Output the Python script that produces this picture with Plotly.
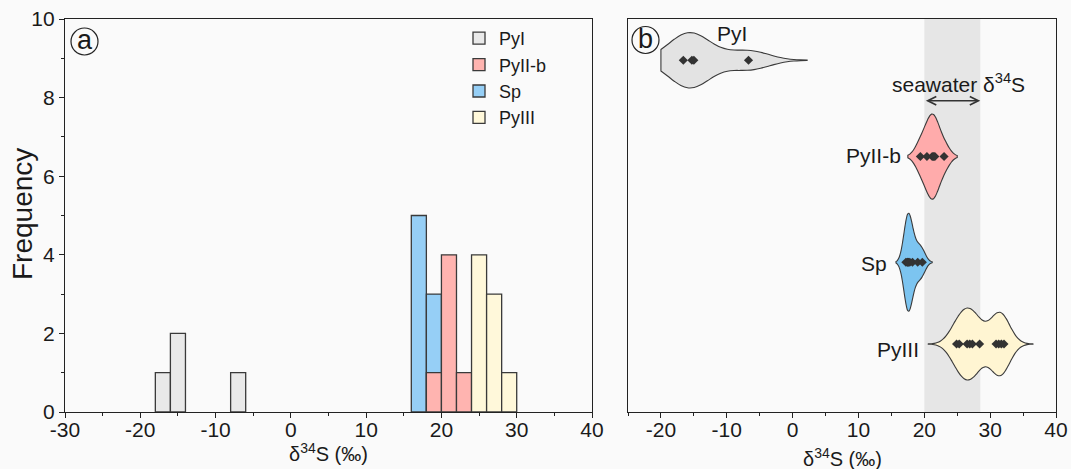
import plotly.graph_objects as go

# ---------------- data ----------------
# Panel (a): histogram bins (bin centre, bin width 2) and counts
pyI_bins = [-17, -15, -7]
pyI_counts = [1, 2, 1]
sp_bins = [17, 19]
sp_counts = [5, 3]
pyIIb_bins = [19, 21, 23]
pyIIb_counts = [1, 4, 1]
pyIII_bins = [25, 27, 29]
pyIII_counts = [4, 3, 1]
bin_width = 2

# Panel (b): individual d34S values used for the violins
pyI_vals = [-16.6, -15.3, -15.0, -6.7]
pyIIb_vals = [19.4, 20.4, 21.2, 21.4, 21.6, 23.0]
sp_vals = [17.2, 17.4, 17.5, 17.6, 17.8, 18.2, 19.0, 19.7]
pyIII_vals = [24.9, 25.3, 26.5, 26.9, 27.3, 28.4, 30.9, 31.3, 31.7, 32.1]

seawater_range = [20, 28.5]

x_ticks_a = [-30, -20, -10, 0, 10, 20, 30, 40]
x_ticks_b = [-20, -10, 0, 10, 20, 30, 40]
y_ticks_a = [0, 2, 4, 6, 8, 10]

colors_hist = {"PyI": "#e9e9e9", "PyII-b": "#ffb4b0", "Sp": "#96cff6", "PyIII": "#fff8da"}
colors_vio = {"PyI": "#e3e3e3", "PyII-b": "#ffabab", "Sp": "#7cc4f0", "PyIII": "#fff5d2"}

FONT = "Liberation Sans, Arial, sans-serif"
INK = "#1a1a1a"
EDGE = "#3a3a3a"

fig = go.Figure()

# ---------------- panel (a) histogram ----------------
hist_sets = [
    ("PyI", pyI_bins, pyI_counts, 1),
    ("Sp", sp_bins, sp_counts, 3),
    ("PyII-b", pyIIb_bins, pyIIb_counts, 2),
    ("PyIII", pyIII_bins, pyIII_counts, 4),
]
for name, bins, counts, rank in hist_sets:
    fig.add_trace(go.Bar(
        x=bins, y=counts, width=bin_width, name=name, legendrank=rank,
        marker=dict(color=colors_hist[name], line=dict(color=EDGE, width=1.3)),
        xaxis="x", yaxis="y", showlegend=True,
    ))

# ---------------- panel (b) violins ----------------
vio_sets = [
    ("PyI", pyI_vals, 8.95, 1.40, 3.1, [-20, 2.2]),
    ("PyII-b", pyIIb_vals, 6.5, 2.16, 0.9, [17.5, 25.0]),
    ("Sp", sp_vals, 3.81, 2.49, 0.6, [15.7, 21.2]),
    ("PyIII", pyIII_vals, 1.73, 1.83, 1.4, [20.6, 36.5]),
]
for name, vals, pos, w, bw, span in vio_sets:
    fig.add_trace(go.Violin(
        x=vals, y0=pos, orientation="h", name=name, width=w,
        bandwidth=bw, spanmode="manual", span=span,
        fillcolor=colors_vio[name], line=dict(color=EDGE, width=1.1),
        opacity=1, points="all", pointpos=0, jitter=0,
        marker=dict(symbol="diamond", size=7, color="#333333"),
        box=dict(visible=False), meanline=dict(visible=False),
        xaxis="x2", yaxis="y2", showlegend=False, hoveron="points",
    ))

axis_common = dict(
    showline=True, linecolor="#222", linewidth=1.3, mirror=True,
    ticks="outside", ticklen=5, tickwidth=1.2, tickcolor="#222",
    tickfont=dict(family=FONT, size=21, color=INK),
    showgrid=False, zeroline=False, automargin=False,
)

y_dom = [1 - 412 / 469, 1 - 19 / 469]

fig.update_layout(
    width=1071, height=469,
    margin=dict(l=0, r=0, t=0, b=0, autoexpand=False),
    paper_bgcolor="#fafafa", plot_bgcolor="#fafafa",
    barmode="overlay", violinmode="overlay",
    font=dict(family=FONT, color=INK),
    xaxis=dict(
        axis_common, domain=[65 / 1071, 592 / 1071], range=[-30, 40],
        tickvals=x_ticks_a, ticktext=[str(v) for v in x_ticks_a],
        ticklabelstandoff=-6,
        minor=dict(dtick=5, tick0=-25, ticks="outside", ticklen=3, tickcolor="#222"),
        anchor="y",
    ),
    yaxis=dict(
        axis_common, domain=y_dom, range=[0, 10],
        tickvals=y_ticks_a, ticktext=[str(v) for v in y_ticks_a],
        minor=dict(dtick=1, ticks="outside", ticklen=3, tickcolor="#222"),
        anchor="x",
    ),
    xaxis2=dict(
        axis_common, domain=[628 / 1071, 1056 / 1071], range=[-25, 40],
        tickvals=x_ticks_b, ticktext=[str(v) for v in x_ticks_b],
        ticklabelstandoff=-6,
        minor=dict(dtick=5, tick0=-25, ticks="outside", ticklen=3, tickcolor="#222"),
        anchor="y2",
    ),
    yaxis2=dict(
        showline=True, linecolor="#222", linewidth=1.3, mirror=True,
        showticklabels=False, ticks="", showgrid=False, zeroline=False,
        domain=y_dom, range=[0, 10], anchor="x2", automargin=False,
    ),
    legend=dict(
        x=459 / 1071, y=1 - 20 / 469, xanchor="left", yanchor="top",
        bgcolor="rgba(0,0,0,0)", font=dict(family=FONT, size=18, color=INK),
        itemwidth=30, tracegroupgap=0,
    ),
)

# axis titles
fig.add_annotation(xref="paper", yref="paper", x=23 / 1071, y=1 - 214 / 469,
                   xanchor="center", yanchor="middle", textangle=-90,
                   text="Frequency", showarrow=False,
                   font=dict(family=FONT, size=28, color=INK))
fig.add_annotation(xref="paper", yref="paper", x=328 / 1071, y=1 - 452 / 469,
                   xanchor="center", yanchor="middle",
                   text="δ<sup>34</sup>S (‰)", showarrow=False,
                   font=dict(family=FONT, size=20, color=INK))
fig.add_annotation(xref="paper", yref="paper", x=842 / 1071, y=1 - 457 / 469,
                   xanchor="center", yanchor="middle",
                   text="δ<sup>34</sup>S (‰)", showarrow=False,
                   font=dict(family=FONT, size=20, color=INK))

# seawater band
fig.add_shape(type="rect", xref="x2", yref="y2 domain",
              x0=seawater_range[0], x1=seawater_range[1], y0=0, y1=1,
              fillcolor="#e6e6e6", line=dict(width=0), layer="below")

# arrow + label
arrow_y = 7.92
fig.add_annotation(xref="x2", yref="y2", axref="x2", ayref="y2",
                   x=seawater_range[1], y=arrow_y,
                   ax=seawater_range[0], ay=arrow_y,
                   text="", showarrow=True, arrowhead=5, arrowside="end+start",
                   arrowsize=1.3, arrowwidth=1.3, arrowcolor="#333")
fig.add_annotation(xref="paper", yref="paper", x=958 / 1071, y=1 - 83 / 469,
                   xanchor="center", yanchor="middle",
                   text="seawater δ<sup>34</sup>S", showarrow=False,
                   font=dict(family=FONT, size=21, color=INK))

# violin labels
for txt, px, py in [("PyI", 732, 33), ("PyII-b", 873, 156), ("Sp", 874, 263), ("PyIII", 898, 349)]:
    fig.add_annotation(xref="paper", yref="paper", x=px / 1071, y=1 - py / 469,
                       xanchor="center", yanchor="middle",
                       text=txt, showarrow=False,
                       font=dict(family=FONT, size=21, color=INK))

# panel letters in circles
for letter, cx, cy in [("a", 84.5, 41.5), ("b", 645.5, 40)]:
    r = 13.5
    fig.add_shape(type="circle", xref="paper", yref="paper",
                  x0=(cx - r) / 1071, x1=(cx + r) / 1071,
                  y0=1 - (cy + r) / 469, y1=1 - (cy - r) / 469,
                  line=dict(color="#222", width=1.2), fillcolor="rgba(0,0,0,0)")
    fig.add_annotation(xref="paper", yref="paper", x=cx / 1071, y=1 - (cy - 1.5) / 469,
                       xanchor="center", yanchor="middle",
                       text=letter, showarrow=False,
                       font=dict(family=FONT, size=27, color=INK))

fig.write_html("out.html")
